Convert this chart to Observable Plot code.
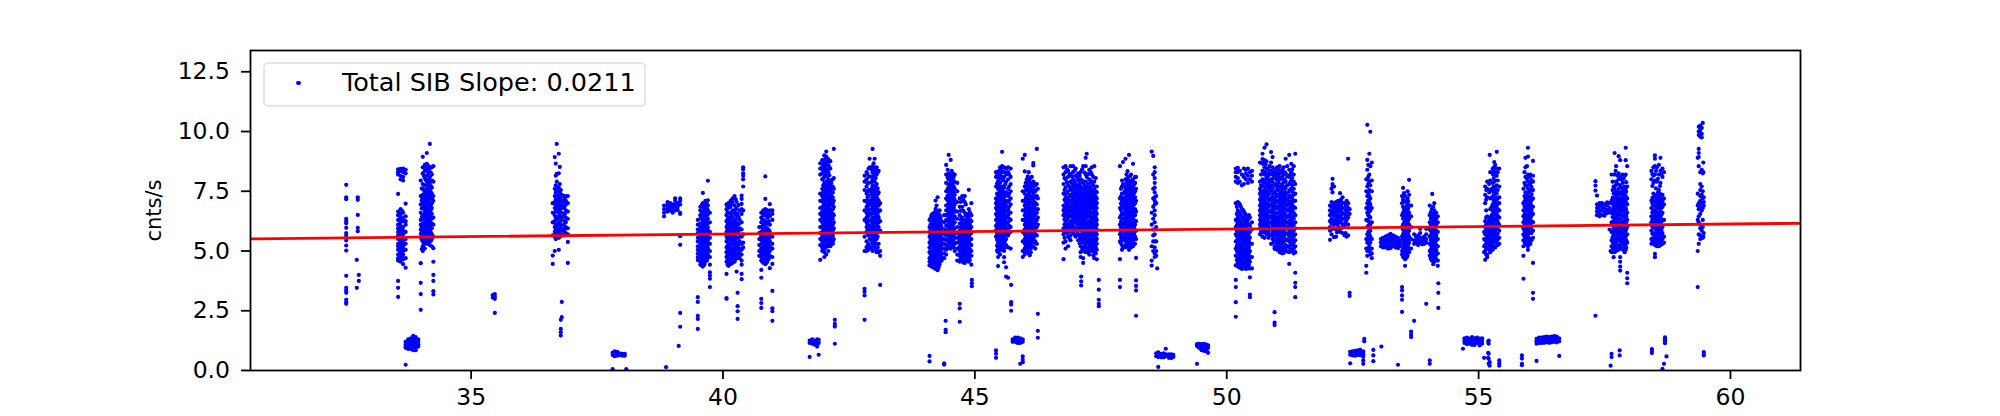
<!DOCTYPE html>
<html><head><meta charset="utf-8">
<script src="https://cdn.jsdelivr.net/npm/d3@7"></script>
<script src="https://cdn.jsdelivr.net/npm/@observablehq/plot@0.6"></script>
<style>
html,body{margin:0;padding:0;background:#fff}
#wrap{position:relative;width:2000px;height:416px;font-family:"DejaVu Sans",sans-serif}
#legend{position:absolute;left:263px;top:62px;width:379px;height:41px;background:rgba(255,255,255,.8);border:2px solid #e6e6e6;border-radius:5px;box-sizing:content-box}
#legend i{position:absolute;left:31.4px;top:17.2px;width:4.2px;height:4.2px;border-radius:50%;background:#00f}
#legend span{position:absolute;left:77px;top:3.2px;font-size:25.5px;line-height:30px;white-space:nowrap;color:#000}
</style></head><body>
<div id="wrap"><div id="chart"></div><div id="legend"><i></i><span>Total SIB Slope: 0.0211</span></div></div>
<script>
const seriesLabel = "Total SIB Slope: 0.0211";
const xDomain = [30.62, 61.39];
const yDomain = [0, 13.39];
const xTicks = [35, 40, 45, 50, 55, 60];
const yTicks = [0, 2.5, 5, 7.5, 10, 12.5];
const fitX = [30.62, 61.39];
const fitY = [5.51, 6.16];

// each entry: [x, [y, y, ...]]
const g32 = [
 [32.52,[7.77,7.25,7.17,6.35,6.25,6.16,5.97,5.75,5.65,5.44,5.23,5.02,3.96,3.46,3.35,3.25,2.96,2.86,2.79]],
 [32.75,[7.25,7.14,6.51,5.97,5.83]],[32.73,[4.63,3.46]],[32.77,[4.0,3.75]],[35.43,[3.05,3.15]],[35.47,[3.1,3.0,3.2,2.41]]
];
const g33 = [
 [33.55,[8.42,8.3,8.2,7.39,6.65,6.5,6.3,6.1,5.95,5.8,5.65,5.5,5.3,5.2,5.05,4.85,4.7,4.6,3.75,3.46,3.08]],
 [33.6,[8.44,8.35,8.15,8.0,6.75,6.55,6.35,6.2,6.05,5.9,5.75,5.6,5.45,5.35,5.2,5.1,4.95,4.75,4.55]],
 [33.65,[8.45,8.3,8.1,7.95,6.6,6.4,6.25,6.0,5.85,5.7,5.55,5.4,5.25,5.15,5.0,4.85,4.65,4.45]],
 [33.7,[8.4,8.25,6.98,6.45,6.25,6.1,5.8,5.5,5.3,5.05,4.7,4.3,1.2,1.1,1.0,.95,.24]],
 [33.75,[1.3,1.2,1.1,1.0,.9]],[33.8,[1.35,1.25,1.15,1.05,.9]],[33.85,[1.45,1.3,1.2,1.1,1.0,.85]],
 [33.9,[1.4,1.25,1.15,1.05,.95,.85]],[33.95,[1.3,1.2,1.1,1.0]]
];
const g34 = [
 [34.0,[7.95,7.3,6.95,6.6,6.3,6.1,5.9,5.72,5.55,4.49,3.67,3.2,2.54]],
 [34.04,[8.94,8.5,8.25,7.8,7.6,7.35,7.2,7.05,6.85,6.5,6.35,6.15,5.95,5.75,5.6,5.4,5.2,5.0]],
 [34.08,[8.6,8.35,8.05,7.75,7.45,7.25,7.1,6.9,6.7,6.55,6.25,6.05,5.85,5.68,5.52,5.35,5.1]],
 [34.12,[9.1,8.65,8.4,8.15,7.9,7.6,7.4,7.2,7.0,6.8,6.6,6.4,6.2,6.0,5.8,5.65,5.45,5.3]],
 [34.16,[8.55,8.3,8.0,7.7,7.5,7.3,7.15,6.95,6.75,6.5,6.3,6.1,5.92,5.74,5.58,5.38]],
 [34.18,[9.48,8.45,8.1,7.85,7.55,7.35,7.05,6.85,6.65,6.45,6.25,6.05,5.85,5.6,5.25]],
 [34.22,[8.5,8.2,7.95,7.65,7.4,7.2,7.0,6.8,6.55,6.35,6.15,5.95,5.7,5.5,5.2]],
 [34.25,[8.55,7.9,7.3,7.1,6.4,6.1,5.6,5.12,4.55,4.0,3.75,3.32,3.18]]
];
const g36 = [
 [36.62,[7.0,6.6,6.2,5.65,4.81,4.46]],[36.66,[8.93,7.6,7.3,7.05,6.8,6.5,6.25,6.0,5.8,5.6,5.0]],
 [36.68,[8.66,8.15,7.75,7.45,7.15,6.9,6.65,6.4,6.1,5.9,5.7,5.5]],
 [36.70,[9.48,8.23,7.9,7.55,7.2,7.0,6.75,6.3,6.05,5.85,5.6]],[36.74,[9.07,8.25,7.65,7.3,7.1,6.85,6.6,6.35,6.15,5.95,5.75,5.55,5.05]],
 [36.76,[8.52,7.8,7.45,7.2,7.0,6.7,6.5,6.2,5.8,5.6]],[36.8,[7.35,7.1,6.9,6.6,6.3,5.95,5.7,2.87,2.23]],
 [36.78,[2.12,1.74,1.6,1.46]],[36.84,[7.3,7.05,6.8,6.45,6.1,5.85,5.65]],[36.88,[7.3,7.1,6.95,6.7,6.4,6.2,6.0,5.75]],
 [36.92,[7.3,7.0,6.65,6.35,5.95,5.7,5.38,4.5]]
];
const g38 = [
 [37.81,[.75,.65,.06]],[37.85,[.8,.7,.6]],[37.9,[.7,.62,.78]],[37.95,[.72,.65]],[38.0,[.7,.62]],[38.05,[.7,.62]],[38.08,[.06]],[38.87,[.14]],
 [38.83,[6.9,6.75,6.6,6.45]],[38.9,[7.05,6.95,6.85,6.75,6.65]],[38.95,[7.0,6.9,6.8,6.7]],[39.0,[6.95,6.85,6.75,6.6]],
 [39.05,[7.2,7.1,6.95,6.85,6.7]],[39.1,[7.0,6.85,6.72]],[39.15,[7.2,7.1,6.95,6.6,6.55,5.62,5.26,2.41,1.83]],[39.12,[1.03]]
];
const g39 = [
 [39.5,[6.3,6.1,5.9,5.75,5.55,5.4,5.2,5.05,4.9,4.75,4.62,3.07,2.87,2.29,2.16,1.74]],
 [39.55,[6.85,6.7,6.5,6.35,6.15,6.0,5.85,5.7,5.6,5.45,5.3,5.15,5.0,4.85,4.7,4.55,4.42]],
 [39.6,[7.43,7.0,6.85,6.65,6.45,6.3,6.2,6.05,5.9,5.78,5.62,5.5,5.35,5.22,5.08,4.92,4.8,4.65,4.5,4.35]],
 [39.65,[7.1,6.95,6.8,6.6,6.4,6.25,6.1,5.95,5.8,5.65,5.52,5.38,5.25,5.1,4.95,4.82,4.68,4.55]],
 [39.7,[7.94,7.12,6.9,6.7,6.55,6.35,6.15,5.98,5.85,5.72,5.58,5.42,5.28,5.12,5.0,4.85,4.72]],
 [39.74,[6.6,6.2,5.8,5.55,5.3,5.0,4.75,4.43,4.11,3.97,3.84,3.49]]
];
const g40 = [
 [40.07,[6.95,6.75,6.5,6.25,6.0,5.8,5.6,5.4,5.15,4.95,4.75,4.55,4.04,3.03,3.0]],
 [40.11,[7.0,6.8,6.6,6.4,6.2,6.05,5.85,5.65,5.5,5.3,5.1,4.9,4.7,4.5,4.38]],
 [40.15,[7.1,6.85,6.55,6.3,6.1,5.9,5.75,5.55,5.35,5.2,5.0,4.85,4.65,4.45]],
 [40.19,[7.2,7.05,6.7,6.4,6.15,5.95,5.8,5.6,5.45,5.25,5.05,4.8,4.6,4.5]],
 [40.23,[7.3,6.9,6.6,6.25,6.05,5.85,5.7,5.5,5.3,5.1,4.95,4.75,4.55]],
 [40.27,[7.05,6.8,6.45,6.2,6.0,5.75,5.55,5.35,5.15,5.0,4.85,4.7,4.14]],
 [40.29,[6.55,3.25,2.69,2.48,2.16]],
 [40.33,[6.7,6.3,5.95,5.7,5.4,5.1,4.9,4.7]],
 [40.37,[7.32,7.18,6.97,6.75,6.55,6.2,5.9,5.6,5.3,5.05,4.85,4.6,4.43,4.04,3.82]],
 [40.4,[8.5,8.42,8.25,8.15,8.0,7.7,6.7,5.7,5.35,5.15]]
];
const g41 = [
 [40.72,[6.0,5.75,5.5,5.25,5.0,4.8]],
 [40.76,[6.6,6.4,6.2,6.0,5.8,5.62,5.45,5.28,5.1,4.92,4.75,4.6,4.21,3.88,3.0,2.82,2.62]],
 [40.8,[6.7,6.5,6.3,6.1,5.9,5.72,5.55,5.38,5.2,5.02,4.85,4.65,4.5]],
 [40.84,[8.12,7.18,6.75,6.55,6.25,6.05,5.85,5.68,5.5,5.32,5.15,4.98,4.8,4.62,4.45]],
 [40.88,[6.65,6.4,6.15,5.95,5.78,5.6,5.42,5.25,5.08,4.9,4.72,4.55]],
 [40.93,[6.96,6.7,6.45,6.1,5.8,5.6,5.4,5.2,5.0,4.8,4.28]],
 [40.98,[6.7,6.55,6.3,5.6,5.3,5.1,4.75,4.46,3.33,2.6,2.48,2.08]]
];
const g42 = [
 [41.72,[1.25,1.15,.57]],[41.77,[1.3,1.2,1.12]],[41.82,[1.25,1.15,1.08]],[41.87,[1.3,1.2,1.1,1.0]],[41.9,[1.28,1.15,.66]],
 [41.93,[8.67,8.45,8.2,7.4,7.1,6.8,6.55,6.3,6.0,5.75,5.5,5.25,4.63]],
 [41.97,[8.8,8.5,8.25,8.0,7.6,7.3,7.1,6.85,6.65,6.45,6.2,6.0,5.8,5.6,5.4,5.15,5.0]],
 [42.01,[9.0,8.7,8.4,8.1,7.85,7.6,7.35,7.15,6.95,6.75,6.5,6.3,6.1,5.9,5.7,5.5,5.25,4.95,4.75]],
 [42.05,[9.16,8.95,8.6,8.3,7.9,7.65,7.45,7.2,7.0,6.8,6.6,6.4,6.2,6.0,5.8,5.55,5.3,4.85]],
 [42.09,[8.85,8.6,8.3,8.0,7.7,7.5,7.25,7.05,6.85,6.65,6.45,6.25,6.05,5.85,5.65,5.4,5.2,5.0]],
 [42.13,[8.76,8.45,7.95,7.75,7.55,7.3,7.1,6.9,6.7,6.5,6.3,6.1,5.9,5.7,5.5,5.2]],
 [42.18,[8.0,7.7,7.45,7.25,7.0,6.75,6.55,6.35,6.1,5.85,5.65,5.4,5.3]],
 [42.2,[9.27,8.05,7.6,7.1,6.85,6.5,6.2,5.95,5.5]],[42.22,[2.12,1.95,1.84,1.12]]
];
const g43 = [
 [42.81,[8.15,7.9,7.55,7.1,6.7,6.3,5.6,5.0,3.42,3.3,3.14,2.12]],
 [42.85,[8.3,8.0,7.7,7.4,7.1,6.85,6.6,6.4,6.2,6.0,5.8,5.4,5.15,5.0]],
 [42.89,[8.45,8.1,7.85,7.55,7.3,7.1,6.9,6.7,6.45,6.25,6.05,5.85,5.65,5.3,5.05]],
 [42.91,[8.86,8.5,7.5,7.0,6.55,5.95,5.5,5.2]],
 [42.97,[9.27,8.55,8.3,8.0,7.75,7.5,7.25,7.05,6.85,6.65,6.4,6.2,6.0,5.8,5.55,5.3,5.0]],
 [43.01,[8.86,8.5,8.2,7.9,7.6,7.35,7.15,6.95,6.75,6.55,6.3,6.1,5.9,5.7,5.45,5.2]],
 [43.05,[8.5,8.2,7.8,7.5,7.25,7.05,6.85,6.6,6.35,6.15,5.95,5.75,5.5,5.1,4.95]],
 [43.09,[8.35,7.45,7.1,6.9,6.65,6.4,6.2,6.0,5.8,5.3,4.95]],[43.12,[7.0,6.7,6.25,5.85,5.0,4.8,3.58]]
];
const g44 = [
 [44.1,[6.3,6.0,5.8,5.6,5.35,5.15,4.95,4.7,4.55,4.4,.61,.38]],
 [44.14,[6.5,6.25,6.05,5.85,5.7,5.55,5.4,5.25,5.1,4.95,4.8,4.65,4.5,4.35]],
 [44.18,[6.45,6.2,6.0,5.82,5.65,5.5,5.35,5.2,5.05,4.9,4.75,4.6,4.45,4.3]],
 [44.22,[7.11,6.76,6.6,6.35,6.12,5.95,5.78,5.6,5.45,5.3,5.15,5.0,4.85,4.7,4.55,4.4,4.25]],
 [44.26,[7.25,6.65,6.4,6.15,5.92,5.75,5.58,5.42,5.25,5.1,4.95,4.8,4.65,4.5,4.35,4.2]],
 [44.3,[6.7,6.5,6.25,6.0,5.8,5.62,5.48,5.32,5.18,5.0,4.85,4.7,4.55,4.42]],
 [44.34,[6.25,6.0,5.75,5.55,5.4,5.25,5.08,4.9,4.75,4.6]],
 [44.39,[6.5,6.2,5.9,5.7,5.5,5.3,5.1,4.9,4.7,.3,.25]],
 [44.42,[2.08,1.7,1.6]],
 [44.43,[8.6,8.2,7.85,7.5,7.2,6.9,6.7,6.5,6.3,6.05,5.85,5.65,5.45,5.25,5.05,4.85]],
 [44.48,[9.02,8.25,8.0,7.75,7.45,7.25,7.05,6.85,6.6,6.4,6.2,6.0,5.8,5.6,5.4,5.2]],
 [44.52,[8.81,8.2,7.9,7.65,7.4,7.2,7.0,6.8,6.55,6.35,6.15,5.95,5.7,5.5,5.3,5.1]],
 [44.56,[8.25,8.0,7.8,7.55,7.3,7.1,6.9,6.7,6.5,6.25,6.05,5.85,5.65,5.45,5.25]],
 [44.6,[8.2,7.9,7.6,7.35,7.15,6.95,6.7,6.45,6.2,5.95,5.75,5.55,5.3,5.0]],
 [44.65,[7.85,7.5,7.05,6.65,6.35,6.0,5.75,5.55,5.35,5.1,4.85,4.6]],
 [44.7,[7.2,6.85,6.5,6.15,5.85,5.65,5.45,5.2,5.0,4.8,4.55,2.79,2.6,2.04]],
 [44.75,[7.3,6.85,6.4,6.2,6.0,5.8,5.6,5.4,5.2,5.0,4.8,4.6]],
 [44.8,[7.3,7.05,6.6,6.3,6.05,5.85,5.65,5.45,5.25,5.05,4.85,4.65,4.5]],
 [44.85,[6.4,6.15,5.95,5.75,5.55,5.35,5.15,4.95,4.75,4.6]],
 [44.88,[7.56,6.75,6.45,6.2,6.0,5.8,5.6,5.4,5.2,4.95,4.7,4.55]],
 [44.93,[7.0,6.5,6.25,6.0,5.75,5.5,5.25,5.0,4.8,4.43]],[44.94,[3.79,3.65,3.53]]
];
const g45 = [
 [45.42,[8.3,8.1,7.7,7.2,7.0,6.8,6.55,6.3,6.05,5.85,5.6,.84,.7,.53]],
 [45.46,[8.2,7.95,7.6,7.3,7.05,6.85,6.65,6.4,6.2,6.0,5.8,5.55,5.35,5.15,4.95,4.75,4.37]],
 [45.5,[8.5,8.2,7.85,7.5,7.25,7.05,6.85,6.6,6.35,6.15,5.95,5.75,5.5,5.3,5.1,4.85]],
 [45.54,[9.15,8.55,8.3,8.0,7.7,7.4,7.15,6.95,6.75,6.5,6.3,6.1,5.9,5.7,5.45,5.25,5.05]],
 [45.58,[8.5,8.1,7.65,7.25,7.0,6.8,6.6,6.4,6.2,6.0,5.8,5.55,5.3,5.0,4.74,4.53]],
 [45.62,[8.45,8.2,7.9,7.45,7.1,6.9,6.65,6.4,6.15,5.95,5.75,5.5,5.25,4.32,3.93]],
 [45.66,[8.5,8.3,8.0,7.6,7.3,7.05,6.75,6.5,6.2,5.9,5.65,5.15,3.88]],
 [45.71,[8.45,8.1,7.8,7.5,7.2,6.95,6.6,6.3,6.0,5.8,5.1]],[45.72,[3.58,2.86,2.76,2.5]],
 [45.75,[1.3,1.2]],[45.8,[1.38,1.28,1.2]],[45.85,[1.38,1.3,1.22,1.15]],[45.9,[1.35,1.25,1.15,.28]],[45.95,[1.3,1.2,.59,.45,.35,8.86,7.5,7.1,6.7,6.3,5.8,5.4,5.0,4.75]],
 [45.99,[9.02,8.33,7.7,7.4,7.1,6.9,6.7,6.5,6.3,6.1,5.9,5.7,5.5,5.3,5.1,4.85]],
 [46.03,[8.0,7.75,7.55,7.3,7.1,6.85,6.6,6.4,6.2,6.0,5.8,5.6,5.4,5.2,5.0]],
 [46.07,[8.3,7.95,7.65,7.4,7.15,6.9,6.65,6.45,6.25,6.05,5.85,5.65,5.45,5.25,4.9]],
 [46.11,[7.85,7.6,7.3,7.05,6.8,6.55,6.3,6.1,5.9,5.7,5.5,5.3,5.1,4.95]],
 [46.16,[8.68,8.58,7.9,7.7,7.4,7.15,6.9,6.65,6.4,6.15,5.95,5.75,5.5,5.2]],
 [46.2,[7.75,7.5,7.25,7.0,6.75,6.5,6.2,5.95,5.7,5.4,5.1]],
 [46.23,[9.27,7.8,7.3,6.95,6.6,6.3,6.0,5.65,5.3]],[46.25,[7.6,7.2,6.75,6.4,6.1,2.37,1.66,1.37]]
];
const g47 = [
 [46.76,[8.5,8.2,7.8,7.4,6.9,6.7,6.5,5.95,5.7,5.35,4.66]],
 [46.8,[8.55,8.3,8.0,7.65,7.3,7.05,6.85,6.65,6.45,6.25,6.05,5.85,5.4,5.1]],
 [46.85,[8.35,8.1,7.75,7.5,7.2,7.0,6.8,6.6,6.4,6.15,5.9,5.6,5.2]],
 [46.9,[8.55,8.2,7.9,7.6,7.35,7.1,6.9,6.7,6.5,6.25,5.95,5.65,5.45]],
 [46.95,[8.55,8.3,8.0,7.7,7.45,7.2,7.0,6.8,6.55,6.35,6.05,5.75]],
 [47.0,[8.45,8.15,7.8,7.55,7.3,7.05,6.85,6.65,6.45,6.2,5.9,5.6]],
 [47.05,[8.25,7.95,7.6,7.35,7.1,6.9,6.7,6.5,6.3,6.0,5.7,5.45]],
 [47.1,[8.3,8.0,7.7,7.45,7.2,7.0,6.75,6.55,6.3,6.1,5.9,5.7,5.5,5.2,4.95,4.75]],[47.11,[3.93,3.73,3.56]],
 [47.15,[8.55,7.85,7.55,7.3,7.05,6.85,6.65,6.4,6.2,6.0,5.8,5.55,5.35,5.15,5.0,4.7,4.5]],
 [47.2,[8.9,8.55,8.2,7.9,7.6,7.35,7.15,6.95,6.75,6.5,6.3,6.1,5.9,5.7,5.5,5.3,5.1,4.95]],
 [47.22,[9.07,8.1,7.7,7.45,7.25,7.0,6.8,6.6,6.4,6.15,5.95,5.75,5.55,5.35,5.15]],
 [47.27,[8.4,8.0,7.65,7.35,7.15,6.9,6.7,6.5,6.25,6.05,5.85,5.65,5.45,5.25,5.05,4.85]],
 [47.32,[8.5,8.2,7.85,7.55,7.3,7.1,6.85,6.6,6.4,6.2,6.0,5.8,5.6,5.4,5.2,5.0]],
 [47.37,[8.55,7.9,7.6,7.35,7.1,6.9,6.7,6.5,6.25,6.05,5.85,5.65,5.45,5.2,4.95,4.7]],
 [47.42,[7.7,7.45,7.2,7.0,6.8,6.55,6.3,6.1,5.9,5.7,5.5,5.3,5.05,4.65]],
 [47.46,[3.79,3.38,2.96,2.79,2.69]]
];
const g48 = [
 [47.88,[8.55,7.2,6.8,6.4,6.1,5.7,5.4,4.66,3.79,3.49]],
 [47.92,[7.95,7.7,7.4,7.1,6.85,6.6,6.35,6.1,5.85,5.65,5.45,5.25,5.05]],
 [47.94,[8.72,7.8,7.2,6.9,6.55,6.2,5.95,5.55,5.15]],
 [47.99,[8.86,8.0,7.6,7.35,7.1,6.9,6.7,6.5,6.25,6.05,5.8,5.6,5.4,5.15]],
 [48.03,[8.34,8.05,7.75,7.4,7.2,7.0,6.75,6.55,6.3,6.1,5.9,5.7,5.45,5.25]],
 [48.06,[9.02,7.95,7.5,7.25,7.05,6.85,6.6,6.4,6.15,5.95,5.75,5.55,5.3,5.05]],
 [48.1,[8.2,7.7,7.45,7.2,6.95,6.7,6.45,6.2,6.0,5.8,5.6,5.35,5.15]],
 [48.14,[8.65,8.0,7.65,7.35,7.1,6.9,6.65,6.4,6.15,5.9,5.7,5.45,5.2,5.4]],
 [48.18,[8.1,7.85,7.5,7.25,7.0,6.75,6.5,6.1,5.85,5.6,5.3]],
 [48.2,[8.1,7.6,7.1,6.65,6.25,5.85,5.5,4.71,3.77,3.54,3.35,2.29]]
];
const g485 = [
 [48.51,[9.16,6.6,6.1,5.2,4.6,4.39]],[48.54,[8.98,8.2,7.6,7.2,6.85,6.35,5.9,5.65,5.4,5.0]],
 [48.57,[8.5,8.3,8.05,7.85,7.65,7.45,7.25,7.1,6.95,6.7,6.5,6.2,5.9,5.7,5.4,5.15,4.9,4.75]],
 [48.6,[7.3,7.0,6.0,5.4,5.0,4.8,.72,.6]],[48.62,[4.27]],[48.64,[.76,.65,.56,.15]],
 [48.7,[.7,.62,.55]],[48.75,[.72,.63,.55]],[48.79,[.91,.68,.6]],[48.85,[.68,.6,.53]],[48.9,[.68,.6,.52]],[48.94,[.65,.57]],
 [49.41,[1.1,1.02,.28]],[49.45,[1.12,1.03,.95]],[49.5,[1.1,1.0,.92,.85]],[49.55,[1.12,1.0,.9,.82]],[49.6,[1.08,.98,.88,.8]],[49.63,[1.05,.95,.74]]
];
const g50 = [
 [50.18,[8.45,8.3,8.1,7.9,7.0,6.3,6.0,5.7,5.4,5.1,4.8,4.4,3.79,3.49,2.86,2.25]],
 [50.22,[8.48,8.3,8.05,7.85,7.05,6.7,6.4,6.2,5.95,5.75,5.55,5.35,5.15,4.95,4.75,4.55,4.35]],
 [50.26,[8.35,7.9,6.95,6.6,6.3,6.05,5.85,5.65,5.48,5.3,5.1,4.9,4.7,4.5,4.3]],
 [50.3,[8.2,7.75,6.75,6.45,6.15,5.95,5.75,5.55,5.4,5.2,5.0,4.8,4.6,4.4,4.25]],
 [50.34,[8.45,8.1,7.8,6.65,6.35,6.1,5.9,5.7,5.5,5.3,5.1,4.92,4.72,4.52,4.32]],
 [50.38,[8.4,8.25,8.0,6.5,6.25,6.0,5.8,5.6,5.42,5.25,5.05,4.85,4.65,4.45,4.25]],
 [50.42,[8.45,8.15,7.85,6.3,6.1,5.85,5.65,5.45,5.25,5.05,4.85,4.65,4.45,4.27]],
 [50.46,[8.3,8.0,6.4,6.05,5.8,5.55,5.3,5.0,4.75,4.55,4.27,3.9,3.18,3.07]],
 [50.5,[8.35,8.15,7.9,6.2,5.9,5.3,4.75,4.27]]
];
const g51 = [
 [50.66,[8.7,7.9,7.6,7.4,7.15,6.9,6.7,6.5,6.3,6.1,5.95,5.7]],
 [50.71,[9.07,8.85,8.65,8.35,8.0,7.7,7.4,7.15,6.95,6.75,6.55,6.35,6.15,5.9,5.6]],
 [50.75,[9.32,8.8,8.5,8.2,7.9,7.55,7.3,7.1,6.85,6.6,6.4,6.2,6.0,5.55]],
 [50.79,[9.46,8.75,8.45,8.1,7.8,7.5,7.25,7.0,6.8,6.55,6.35,6.15,5.9,5.7]],
 [50.83,[8.4,8.15,7.85,7.6,7.35,7.1,6.85,6.6,6.35,6.1,5.85,5.55]],
 [50.88,[9.14,8.7,8.35,8.0,7.75,7.5,7.2,6.95,6.7,6.45,6.2,5.95,5.65,5.3]],
 [50.91,[8.93,8.5,8.2,7.9,7.6,7.3,7.05,6.8,6.55,6.3,6.05,5.8,5.5]],
 [50.95,[8.4,8.15,7.8,7.45,7.2,6.95,6.75,6.5,6.25,6.0,5.75,5.45,5.2,5.09,2.44,2.0,1.9]],
 [51.0,[8.5,8.2,7.95,7.65,7.35,7.1,6.85,6.6,6.4,6.2,6.0,5.8,5.55,5.3,5.05]],
 [51.05,[8.55,8.25,8.0,7.7,7.4,7.15,6.9,6.7,6.5,6.3,6.1,5.9,5.7,5.45,5.2,4.95]],
 [51.1,[8.4,8.1,7.8,7.55,7.3,7.05,6.85,6.6,6.4,6.2,6.0,5.8,5.6,5.35,5.1,4.9]],
 [51.15,[8.3,8.0,7.7,7.45,7.2,7.0,6.75,6.55,6.3,6.1,5.9,5.7,5.45,5.2,5.0]],
 [51.17,[8.86,8.25,7.9,7.6,7.3,7.05,6.8,6.5,6.25,6.0,5.75,5.5,5.25,5.05]],
 [51.24,[9.02,8.4,8.1,7.8,7.5,7.25,7.0,6.75,6.5,6.25,6.05,5.85,5.6,5.4,5.15,4.95,4.46]],
 [51.28,[8.65,8.3,7.95,7.6,7.3,7.05,6.8,6.55,6.3,6.05,5.8,5.55,5.3,5.05]],
 [51.33,[8.55,8.2,7.9,7.6,7.35,7.1,6.85,6.6,6.35,6.1,5.85,5.6,5.35,5.1,4.9]],
 [51.36,[9.07,7.8,7.4,7.1,6.8,6.5,6.2,5.95,5.7,5.45,5.2,4.95,4.09,3.67,3.49,3.07]]
];
const g52 = [
 [52.05,[6.9,6.7,6.5,6.25,6.0,5.85,5.47]],[52.08,[7.6,7.05,6.85,6.6,6.35,6.15,5.9,5.7]],
 [52.1,[8.02,7.8,7.67,7.45]],[52.13,[7.7,7.0,6.8,6.55,6.3,6.1,5.58]],[52.17,[7.05,6.85,6.65,6.45,6.25,5.9,5.6]],
 [52.21,[7.1,6.9,6.7,6.5,6.3,6.05,5.85]],[52.25,[7.42,7.05,6.85,6.65,6.4,6.2,5.8]],[52.3,[7.25,7.0,6.8,6.6,6.35,6.1,5.75]],
 [52.34,[7.0,6.8,6.55,6.35,6.05,5.65]],[52.38,[7.1,6.9,6.7,6.5,6.3,5.6]],[52.41,[8.86,7.0,6.8,6.6,6.4,6.1,5.65]],[52.44,[6.75,6.55,3.25,3.12]],
 [52.45,[.78,.66,.3]],[52.5,[.8,.72,.63]],[52.55,[.82,.72,.62]],[52.6,[.84,.74,.65]],[52.65,[.86,.75,.64]],[52.71,[.8,.68,.58,.42,.28]],[52.73,[1.32,1.22]],
 [52.77,[8.0,7.5,6.8,6.3,5.5,5.1,4.38,4.09]],[52.79,[10.28,8.81,8.4,8.0,7.7,7.3,7.0,6.6,6.3,6.0,5.7,5.35,5.0,4.8]],
 [52.83,[9.07,8.2,7.9,7.55,7.3,7.05,6.85,6.65,6.45,6.2,5.95,5.7,5.5,5.25,5.0]],
 [52.85,[9.99,8.55,7.75,7.2,6.95,6.7,6.4,6.1,5.85,5.6,5.35,5.1,4.85]],[52.88,[8.7,7.95,7.5,6.8,6.2,5.5,5.1,4.9,4.7]],
 [52.91,[.86,.63,.39]],[53.07,[1.0]]
];
const g53 = [
 [53.06,[5.5,5.35,5.2]],[53.1,[5.55,5.42,5.28,5.15]],[53.15,[5.6,5.45,5.3,5.15]],[53.2,[5.65,5.5,5.35,5.2,5.1]],[53.25,[5.72,5.58,5.42,5.28,5.12]],
 [53.3,[5.65,5.5,5.35,5.2]],[53.35,[5.6,5.45,5.3,5.15]],[53.4,[5.55,5.4,5.25,5.12,.24]],[53.44,[5.45,5.3,5.2]],
 [53.48,[7.3,7.0,6.5,6.0,5.6,5.3,5.0,4.85,3.49,3.35,3.14,2.96,2.45]],
 [53.5,[7.64,7.15,6.85,6.6,6.35,6.1,5.9,5.7,5.5,5.3,5.1,4.9,4.75]],
 [53.54,[7.3,7.05,6.8,6.5,6.25,6.05,5.85,5.65,5.45,5.25,5.05,4.85,4.65,4.38]],
 [53.59,[7.5,7.2,6.95,6.7,6.45,6.2,6.0,5.8,5.6,5.4,5.2,5.0,4.8]],
 [53.62,[7.98,7.35,6.9,6.6,6.35,6.1,5.85,5.6,5.35,5.1,4.95]],[53.66,[6.9,6.45,6.0,5.5,5.1,1.63,1.5,1.4]],[53.72,[5.7,5.45,5.3,2.08]],
 [53.76,[5.6,5.45,5.32]],[53.8,[5.65,5.48,5.3,5.25]],[53.84,[5.93,5.75,5.55,5.38]],[53.88,[5.55,5.4,5.28]],[53.92,[5.6,5.45,5.3]],[53.96,[5.93,5.7,5.5,5.35,2.79]],
 [54.03,[6.9,6.5,6.2,5.9,5.6,5.3,5.0,4.8,.42,.28]],[54.07,[6.75,6.45,6.2,6.0,5.75,5.55,5.35,5.15,4.95,4.75,4.6]],
 [54.08,[7.39]],[54.12,[7.0,6.7,6.4,6.15,5.95,5.7,5.5,5.3,5.1,4.9,4.7,4.55]],[54.16,[6.6,6.35,6.1,5.85,5.65,5.45,5.25,5.05,4.85,4.65]],
 [54.19,[6.45,6.2,5.8,5.5,5.2,4.9,4.6,4.38]],[54.2,[3.65,3.25,2.62]]
];
const g55 = [
 [54.69,[.91]],[54.72,[1.35,1.25,1.15]],[54.77,[1.38,1.28,1.18,1.1]],[54.82,[1.32,1.22,1.12]],[54.87,[1.4,1.28,1.17,1.07]],[54.92,[1.35,1.25,1.15,1.07]],
 [54.97,[1.38,1.26,1.15]],[55.02,[1.34,1.24,1.14,1.05]],[55.07,[1.35,1.25,1.12]],[55.11,[.53,4.95,5.2,5.5,5.8]],[55.13,[4.63,5.0,5.25,5.45,5.7,6.0,6.25,7.0,7.35,7.7]],
 [55.17,[7.9,7.6,7.25,6.45,6.2,6.0,5.8,5.6,5.4,5.2,4.85,4.74]],[55.19,[1.19,.74,.53]],[55.2,[1.25,1.12,.7,.49,.28]],[55.22,[9.02,.35,.2]],
 [55.21,[7.8,7.45,6.3,6.05,5.85,5.65,5.45,5.25,5.05]],[55.26,[7.6,7.25,6.85,6.5,6.25,6.0,5.8,5.6,5.4,5.2]],
 [55.3,[8.35,8.05,7.7,7.35,7.1,6.85,6.6,6.4,6.15,5.95,5.75,5.55,5.35,5.15]],[55.31,[8.72,8.5,8.2,7.9,7.5,7.0,6.7,6.3,6.05,5.7,5.45,5.2]],
 [55.36,[9.15,8.45,8.15,7.75,7.4,7.15,6.9,6.6,6.35,6.1,5.9,5.6,5.35]],[55.41,[8.45,7.7,7.25,7.0,6.7,6.4,6.1,5.85,5.55,5.3,.42,.2,.3]],
 [55.86,[.63,.5,.28,.22]]
];
const g56 = [
 [55.89,[7.6,7.0,6.7,6.45,6.2,5.95,5.7,5.45,5.2,4.8,3.84]],[55.93,[8.9,8.5,8.1,7.75,7.45,7.2,7.0,6.8,6.6,6.4,6.2,6.0,5.8,5.55,5.3]],
 [55.98,[9.32,8.95,8.2,7.9,7.6,7.3,7.1,6.9,6.7,6.5,6.3,6.05,5.85,5.6,5.4,5.2,5.05]],
 [56.03,[8.2,7.85,7.55,7.25,7.0,6.8,6.6,6.4,6.15,5.95,5.75,5.5,5.3]],
 [56.08,[8.77,8.15,7.9,7.55,7.2,6.85,6.55,6.2,5.85,5.55,4.5,3.25,3.0]],
 [56.15,[1.32,1.22,1.12,.4]],[56.2,[1.38,1.26,1.14]],[56.25,[1.38,1.27,1.15]],[56.3,[1.4,1.28,1.16]],[56.35,[1.42,1.3,1.18]],
 [56.4,[1.4,1.28,1.16]],[56.45,[1.42,1.3,1.18]],[56.5,[1.44,1.32,1.2]],[56.55,[1.42,1.3,1.18]],[56.6,[1.35,1.22,.61]]
];
const g57 = [
 [57.32,[7.92,7.74,7.53,2.29]],[57.35,[7.32,6.95,6.8,6.65,6.5]],[57.4,[7.0,6.85,6.7,6.55,6.45]],[57.45,[7.0,6.85,6.7,6.5]],[57.5,[6.95,6.78,6.62,6.48]],
 [57.55,[7.04,6.9,6.72,6.58]],[57.6,[7.0,6.8,6.65,5.9]],[57.62,[.2,6.6,5.0]],[57.64,[.7,.56,8.2,7.1,6.6,6.2,5.8,5.45,5.2,4.95]],
 [57.68,[7.7,7.4,7.05,6.85,6.55,6.25,5.95,5.7,5.5,5.3,5.1,4.74]],[57.7,[9.1,8.2,7.6,7.2,6.95,6.7,6.4,6.1,5.8,5.55,5.35,5.15,4.95]],
 [57.73,[8.55,7.9,7.5,7.25,7.0,6.8,6.55,6.3,6.05,5.8,5.6,5.4,5.2,5.0]],[57.78,[8.97,8.25,8.0,7.6,7.35,7.1,6.9,6.65,6.45,6.2,6.0,5.75,5.5,5.25,5.05]],
 [57.81,[8.8,8.1,7.75,7.45,7.2,7.0,6.8,6.55,6.3,6.1,5.85,5.65,5.45,5.2,4.74,4.55,4.35,4.18]],
 [57.8,[.84,.63]],[57.86,[8.2,7.85,7.5,7.25,7.05,6.85,6.65,6.4,6.15,5.95,5.75,5.55,5.35,5.1]],
 [57.9,[8.15,7.7,7.4,7.15,6.95,6.75,6.5,6.25,6.05,5.8,5.6,5.4,5.2,4.95]],
 [57.92,[9.32,8.8,8.2,7.6,7.3,7.05,6.8,6.55,6.3,6.1,5.85,5.6,5.3,5.05]],[57.95,[8.55,7.7,7.2,6.95,6.6,6.3,6.0,5.7,5.35,4.09,3.86,3.65]]
];
const g58 = [
 [58.43,[8.35,8.0,7.1,6.8,6.45,6.2,5.85,5.5,5.3]],[58.44,[.9,.82,.73]],[58.47,[8.5,8.15,7.85,7.4,7.1,6.9,6.7,6.5,6.25,6.0,5.75,5.55,5.35]],
 [58.5,[9.0,8.86,8.55,8.2,7.95,7.3,7.1,6.9,6.7,6.45,6.2,5.95,5.7,5.45,5.25,4.88,4.74]],
 [58.54,[8.5,7.9,7.35,7.15,6.95,6.75,6.5,6.25,6.05,5.8,5.6,5.4,5.2]],[58.58,[8.6,8.2,7.55,7.25,7.05,6.85,6.6,6.35,6.1,5.85,5.65,5.45,5.2]],
 [58.61,[8.9,8.35,7.85,7.3,7.1,6.9,6.65,6.4,6.15,5.95,5.7,5.5,5.25]],[58.65,[8.45,8.1,7.35,7.1,6.85,6.6,6.3,6.0,5.75,5.5,5.3,.07]],
 [58.68,[8.3,7.2,6.95,6.3,5.6,5.35,.28]],[58.7,[1.39,1.3,1.22,1.14]],[58.73,[.59]],
 [59.35,[8.9,5.0,3.49,7.4,6.9,6.3]],[59.37,[10.2,10.0,9.85,9.27,9.1,8.93,8.55,7.0,6.75,6.45,6.2,5.3,5.7]],
 [59.4,[10.25,10.1,9.95,9.78,8.3,7.8,7.55,7.3,7.1,6.85,6.55,6.1,5.95,5.65,5.5]],
 [59.43,[10.15,9.9,9.75,8.4,7.7,7.35,7.0,6.7,5.85]],[59.45,[10.36,8.25,7.5,7.2,6.8,6.3,6.0,5.55]],[59.46,[8.7,8.3,5.6]],[59.47,[7.25,7.05,6.9,5.75,.77,.7,.63]]
];
// extra points inside the densest blobs, read between the columns above
const dense1 = [
 [33.58,[6.47,6.12,5.87,5.62,5.33,5.12,4.88,4.66]],[33.63,[6.68,6.28,5.97,5.72,5.48,5.28,5.03,4.72]],
 [34.02,[7.62,7.12,6.78,6.42,6.02,5.82,5.47,5.08]],[34.06,[8.15,7.55,7.32,6.97,6.78,6.43,6.12,5.88,5.47,5.28]],[34.1,[8.48,7.98,7.52,7.28,7.03,6.87,6.48,6.28,6.08,5.92,5.72,5.42]],
 [34.14,[8.22,7.78,7.42,7.08,6.88,6.67,6.47,6.27,5.97,5.77,5.53]],[34.2,[8.28,7.72,7.47,7.22,6.92,6.72,6.38,6.12,5.78,5.42]],
 [36.72,[7.62,7.32,6.93,6.68,6.42,6.12,5.78]],[36.78,[7.55,7.25,7.02,6.78,6.42,6.08,5.88,5.62]],[36.86,[7.18,6.88,6.55,6.25,5.92,5.72]],
 [39.58,[6.92,6.58,6.38,6.12,5.87,5.67,5.42,5.17,4.97,4.72,4.47]],[39.63,[6.72,6.52,6.17,6.02,5.72,5.47,5.17,5.02,4.72,4.42]],[39.68,[6.97,6.77,6.47,6.22,6.02,5.77,5.48,5.22,5.03,4.78,4.6]],
 [40.09,[6.87,6.62,6.32,6.12,5.92,5.72,5.48,5.22,5.02,4.82,4.62,4.42]],[40.17,[6.98,6.62,6.47,6.22,6.02,5.83,5.63,5.42,5.27,5.08,4.92,4.72,4.52]],[40.25,[7.17,6.72,6.52,6.32,6.12,5.93,5.62,5.42,5.22,5.05,4.88,4.65]],[40.31,[6.92,6.42,6.12,5.85,5.55,5.25,5.02,4.8]],
 [40.78,[6.62,6.32,6.02,5.82,5.63,5.47,5.32,5.12,4.95,4.78,4.55]],[40.86,[6.72,6.47,6.15,5.92,5.73,5.52,5.37,5.18,5.0,4.85,4.68,4.5]],[40.91,[6.55,6.25,5.88,5.7,5.5,5.33,5.13,4.95,4.67]],
 [41.99,[8.6,8.35,8.02,7.75,7.47,7.22,7.02,6.77,6.57,6.37,6.12,5.92,5.72,5.47,5.27,5.07]],[42.03,[8.85,8.52,8.2,7.78,7.52,7.27,7.07,6.87,6.67,6.42,6.23,6.03,5.83,5.62,5.42,5.12]],
 [42.07,[8.75,8.4,8.12,7.82,7.57,7.33,7.12,6.92,6.72,6.52,6.33,6.12,5.92,5.72,5.47,5.22]],[42.11,[8.52,8.17,7.88,7.62,7.38,7.18,6.97,6.77,6.57,6.37,6.17,5.97,5.77,5.58,5.32]],[42.15,[7.85,7.6,7.38,7.2,6.95,6.62,6.42,6.2,6.0,5.8,5.6,5.35]],
 [42.87,[8.22,7.82,7.48,7.25,7.0,6.78,6.52,6.32,6.12,5.92,5.72,5.22]],[42.95,[8.42,8.12,7.88,7.62,7.38,7.15,6.95,6.75,6.55,6.3,6.1,5.9,5.67,5.42,5.12]],[42.99,[8.67,8.38,8.07,7.72,7.45,7.2,7.0,6.8,6.6,6.35,6.15,5.95,5.75,5.5,5.25]],[43.03,[8.35,8.05,7.7,7.42,7.22,7.02,6.82,6.62,6.42,6.22,6.02,5.82,5.58,5.32,5.05]],[43.07,[8.28,7.62,7.38,7.17,6.95,6.72,6.5,6.25,6.05,5.85,5.6,5.15]]
];
const dense2 = [
 [44.12,[6.38,6.12,5.92,5.72,5.47,5.32,5.17,5.02,4.87,4.73,4.58,4.43]],[44.16,[6.55,6.32,6.12,5.92,5.77,5.62,5.47,5.33,5.17,5.02,4.87,4.72,4.57,4.42]],[44.2,[6.62,6.4,6.22,6.05,5.87,5.72,5.57,5.42,5.27,5.12,4.97,4.82,4.67,4.52,4.37]],
 [44.24,[6.9,6.68,6.47,6.25,6.02,5.85,5.68,5.52,5.37,5.22,5.07,4.92,4.77,4.62,4.47,4.32]],[44.28,[6.55,6.3,6.08,5.88,5.7,5.53,5.38,5.22,5.07,4.9,4.75,4.6,4.47,4.3]],[44.32,[6.4,6.12,5.88,5.68,5.52,5.35,5.2,5.03,4.87,4.72,4.57]],
 [44.46,[8.4,8.07,7.6,7.32,7.12,6.93,6.72,6.52,6.28,6.08,5.88,5.7,5.5,5.28,5.1]],[44.5,[8.1,7.8,7.55,7.32,7.12,6.9,6.68,6.47,6.25,6.07,5.87,5.67,5.47,5.25]],[44.54,[8.35,8.05,7.72,7.47,7.27,7.07,6.85,6.62,6.42,6.22,6.02,5.82,5.6,5.38,5.18]],[44.58,[8.1,7.7,7.45,7.22,7.03,6.82,6.6,6.35,6.15,5.85,5.65,5.4,5.15]],
 [44.72,[7.05,6.68,6.32,6.0,5.75,5.55,5.32,5.1,4.9,4.68]],[44.77,[7.15,6.68,6.3,6.1,5.9,5.7,5.5,5.3,5.1,4.9,4.7,4.52]],[44.82,[6.95,6.5,6.2,5.95,5.75,5.55,5.35,5.15,4.95,4.75,4.57]],[44.87,[6.55,6.28,6.08,5.87,5.68,5.47,5.27,5.07,4.87,4.68]],[44.9,[6.62,6.32,6.12,5.9,5.7,5.5,5.3,5.08,4.85,4.62]],
 [45.44,[8.25,7.82,7.4,7.1,6.92,6.72,6.47,6.12,5.92,5.72,5.47,5.22,5.02]],[45.48,[8.35,8.08,7.72,7.42,7.17,6.95,6.75,6.52,6.28,6.08,5.88,5.65,5.42,5.22,5.0]],[45.52,[8.42,8.12,7.62,7.35,7.1,6.9,6.68,6.42,6.22,6.02,5.82,5.6,5.38,5.17]],[45.56,[8.32,7.95,7.5,7.2,7.02,6.85,6.62,6.38,6.18,5.98,5.78,5.52,5.3,5.1]],[45.6,[8.28,7.78,7.35,7.05,6.85,6.68,6.48,6.28,6.08,5.88,5.65,5.42,5.15]],[45.68,[8.2,7.7,7.4,7.12,6.85,6.62,6.35,6.05,5.75]],
 [46.01,[7.85,7.55,7.22,7.0,6.8,6.6,6.38,6.18,5.97,5.78,5.6,5.4,5.18,4.95]],[46.05,[8.12,7.85,7.6,7.33,7.05,6.78,6.55,6.32,6.12,5.93,5.73,5.53,5.32,5.08]],[46.09,[8.02,7.72,7.48,7.22,7.0,6.75,6.52,6.35,6.15,5.95,5.75,5.55,5.35,5.15,4.82]],[46.13,[8.1,7.8,7.52,7.22,6.97,6.72,6.48,6.22,6.02,5.82,5.62,5.4,5.2]],[46.18,[7.82,7.55,7.3,7.05,6.82,6.55,6.3,6.05,5.82,5.6,5.35]],
 [46.78,[8.05,7.55,7.15,6.78,6.58,6.33,6.12,5.78,5.55]],[46.83,[8.42,7.87,7.42,7.12,6.92,6.72,6.53,6.32,5.97,5.75]],[46.88,[8.22,7.68,7.28,7.08,6.88,6.68,6.47,6.07,5.82,5.52]],[46.93,[8.12,7.82,7.52,7.27,7.03,6.83,6.63,6.42,6.17,5.87]],
 [46.98,[8.37,7.93,7.62,7.38,7.13,6.93,6.72,6.5,6.28,5.98,5.68]],[47.03,[8.08,7.72,7.45,7.22,6.98,6.78,6.6,6.38,6.12,5.82]],[47.08,[8.15,7.83,7.58,7.32,7.08,6.83,6.62,6.43,6.18,5.97,5.6,5.32]],[47.13,[8.42,7.95,7.62,7.38,7.12,6.92,6.72,6.48,6.27,6.08,5.88,5.63,5.43,5.08]],
 [47.18,[8.28,7.73,7.42,7.2,7.0,6.8,6.6,6.35,6.15,5.95,5.73,5.52,5.28,5.03]],[47.25,[8.22,7.82,7.52,7.28,7.08,6.85,6.65,6.45,6.18,5.98,5.78,5.58,5.38,5.12,4.95]],[47.3,[8.3,7.95,7.7,7.45,7.2,7.0,6.77,6.55,6.32,6.12,5.92,5.72,5.5,5.3,5.1]],[47.35,[8.1,7.75,7.45,7.22,7.0,6.8,6.58,6.33,6.15,5.95,5.75,5.53,5.3,5.08,4.82]],[47.4,[8.05,7.5,7.28,7.08,6.88,6.65,6.4,6.2,6.0,5.78,5.58,5.38,5.15,4.9]],
 [47.9,[7.6,7.28,6.98,6.72,6.48,6.22,5.98,5.78,5.55,5.32]],[47.97,[7.72,7.48,7.22,6.98,6.78,6.58,6.38,6.15,5.93,5.7,5.48,5.22]],[48.01,[8.2,7.88,7.5,7.28,7.08,6.85,6.65,6.42,6.2,6.0,5.8,5.58,5.33]],[48.05,[7.85,7.62,7.33,7.13,6.93,6.7,6.47,6.25,6.03,5.83,5.63,5.4,5.18]],[48.08,[8.12,7.82,7.58,7.32,7.08,6.8,6.52,6.3,6.08,5.87,5.68,5.45,5.23]],[48.12,[7.9,7.58,7.28,7.03,6.8,6.55,6.28,6.05,5.8,5.52,5.28]],[48.16,[7.78,7.42,7.18,6.95,6.7,6.28,5.98,5.72,5.5]]
];
const dense3 = [
 [50.2,[6.85,6.55,6.28,6.08,5.85,5.62,5.42,5.22,5.02,4.82,4.62,4.42]],[50.24,[7.0,6.5,6.28,6.08,5.85,5.68,5.5,5.25,5.02,4.82,4.62,4.4]],[50.28,[6.85,6.52,6.22,6.0,5.8,5.6,5.42,5.22,5.03,4.83,4.63,4.43]],[50.32,[6.72,6.4,6.2,6.02,5.82,5.62,5.45,5.25,5.05,4.87,4.67,4.47,4.3]],[50.36,[6.58,6.3,6.05,5.85,5.65,5.47,5.28,5.08,4.88,4.68,4.48,4.28]],[50.4,[6.42,6.18,5.92,5.72,5.52,5.32,5.12,4.92,4.72,4.52,4.32]],[50.44,[6.5,6.12,5.85,5.62,5.4,5.15,4.9,4.65,4.42]],
 [50.68,[8.2,7.75,7.5,7.28,7.02,6.8,6.6,6.42,6.2,6.02,5.8]],[50.73,[8.72,8.32,7.85,7.52,7.28,7.05,6.85,6.65,6.45,6.25,6.07,5.78]],[50.77,[8.62,8.3,7.98,7.68,7.4,7.2,6.97,6.72,6.5,6.3,6.08,5.8]],[50.81,[8.25,8.0,7.72,7.45,7.22,6.95,6.7,6.47,6.25,6.0,5.78]],[50.85,[8.55,8.22,7.9,7.65,7.42,7.15,6.9,6.65,6.42,6.18,5.95,5.7]],[50.93,[8.3,8.05,7.72,7.42,7.12,6.88,6.63,6.38,6.15,5.9,5.62,5.35]],
 [50.98,[8.3,8.05,7.78,7.52,7.28,7.03,6.78,6.55,6.32,6.12,5.92,5.68,5.42,5.15]],[51.03,[8.4,8.12,7.85,7.55,7.28,7.02,6.8,6.6,6.4,6.2,6.02,5.8,5.58,5.33,5.08]],[51.08,[8.3,8.02,7.68,7.45,7.2,6.98,6.77,6.55,6.35,6.15,5.95,5.72,5.5,5.25,5.0]],[51.13,[8.5,8.2,7.88,7.62,7.38,7.12,6.92,6.68,6.47,6.25,6.05,5.85,5.62,5.38,5.13,4.92]],[51.2,[8.55,8.12,7.75,7.42,7.15,6.92,6.68,6.42,6.18,5.97,5.72,5.45,5.2,4.98]],[51.26,[8.2,7.88,7.58,7.32,7.08,6.88,6.65,6.4,6.15,5.95,5.72,5.48,5.25,5.02]],[51.3,[8.42,8.05,7.75,7.48,7.2,6.95,6.7,6.45,6.22,5.97,5.72,5.48,5.22,4.98]],
 [52.12,[6.95,6.72,6.48,6.2,5.95]],[52.19,[6.98,6.78,6.58,6.38,6.15,5.78]],[52.27,[7.15,6.92,6.72,6.5,6.25,5.95]],[52.36,[6.95,6.72,6.45,6.2,5.75]],
 [52.81,[8.6,8.1,7.8,7.42,7.12,6.92,6.72,6.5,6.25,6.05,5.8,5.6,5.38,5.12]],
 [53.52,[7.42,7.08,6.72,6.42,6.18,5.97,5.78,5.58,5.38,5.17,4.97,4.78]],[53.57,[7.12,6.88,6.62,6.35,6.12,5.92,5.72,5.52,5.32,5.12,4.92,4.72]],[53.6,[7.08,6.78,6.52,6.28,6.05,5.72,5.48,5.27,5.03]],
 [54.05,[6.62,6.35,6.1,5.85,5.65,5.45,5.25,5.05,4.85,4.68]],[54.1,[6.85,6.55,6.3,6.08,5.85,5.62,5.42,5.22,5.02,4.82,4.62,4.45]],[54.14,[6.5,6.25,6.02,5.78,5.58,5.38,5.18,4.98,4.78,4.6]],
 [55.15,[7.55,7.15,6.7,6.4,6.12,5.92,5.7,5.5,5.3,5.1,4.85]],[55.23,[8.3,7.95,7.55,7.2,6.75,6.4,6.15,5.92,5.72,5.52,5.32,5.12,4.95]],[55.28,[8.45,8.22,7.85,7.5,7.2,6.95,6.68,6.45,6.22,6.02,5.82,5.62,5.42,5.22,5.05]],[55.33,[8.6,8.28,7.95,7.6,7.25,7.05,6.78,6.52,6.27,6.02,5.8,5.6,5.38,5.15]],[55.38,[8.3,7.95,7.55,7.2,6.98,6.75,6.47,6.22,5.98,5.72,5.48,5.25]],
 [55.91,[8.3,7.85,7.3,7.08,6.88,6.52,6.3,6.08,5.85,5.62,5.38]],[55.96,[8.55,8.02,7.72,7.42,7.18,6.95,6.75,6.55,6.35,6.12,5.92,5.7,5.48,5.28]],[56.01,[8.1,7.78,7.48,7.22,7.02,6.83,6.62,6.42,6.2,5.98,5.78,5.52,5.28]],[56.05,[7.97,7.68,7.38,7.12,6.9,6.7,6.48,6.25,6.02,5.75,5.45]],
 [57.66,[7.9,7.55,7.22,6.98,6.72,6.42,6.08,5.78,5.58,5.38,5.15]],[57.72,[8.35,7.75,7.38,7.12,6.88,6.62,6.42,6.18,5.92,5.7,5.48,5.28,5.08]],[57.76,[8.15,7.8,7.45,7.22,7.0,6.78,6.55,6.35,6.12,5.88,5.65,5.42,5.18]],[57.83,[8.0,7.65,7.38,7.12,6.92,6.7,6.5,6.25,6.02,5.8,5.55,5.33,5.1]],[57.88,[8.02,7.6,7.32,7.08,6.88,6.68,6.45,6.18,5.98,5.72,5.5,5.28,5.03]],[57.93,[7.88,7.48,7.18,7.0,6.72,6.45,6.2,5.92,5.68,5.45,5.15]],
 [58.45,[8.22,7.72,7.22,6.98,6.62,6.32,6.02,5.72,5.42]],[58.52,[8.35,7.62,7.25,7.05,6.85,6.62,6.38,6.15,5.9,5.7,5.5,5.3]],[58.56,[8.02,7.45,7.2,7.02,6.82,6.6,6.38,6.15,5.92,5.72,5.52,5.3]],[58.6,[7.72,7.4,7.2,7.0,6.78,6.5,6.25,6.02,5.8,5.6,5.35]],[58.63,[8.2,7.25,7.02,6.8,6.52,6.22,5.88,5.62,5.38]]
];

const columns = [...g32,...g33,...g34,...g36,...g38,...g39,...g40,...g41,...g42,...g43,...g44,...g45,...g47,...g48,...g485,...g50,...g51,...g52,...g53,...g55,...g56,...g57,...g58,...dense1,...dense2,...dense3];
const points = columns.flatMap(([x, ys]) => ys.map(y => ({x, y})));
const fit = fitX.map((x, i) => ({x, y: fitY[i]}));

const chart = Plot.plot({
  width: 2000, height: 416,
  marginLeft: 250, marginRight: 200, marginTop: 50, marginBottom: 46,
  style: {fontFamily: '"DejaVu Sans", sans-serif', fontSize: "23.5px", color: "#000", background: "#fff"},
  x: {domain: xDomain},
  y: {domain: yDomain},
  marks: [
    Plot.dot(points, {x: "x", y: "y", r: 2.1, fill: "#0000ff", stroke: "none", clip: true}),
    Plot.line(fit, {x: "x", y: "y", stroke: "#ff0000", strokeWidth: 2.8, clip: true}),
    Plot.frame({stroke: "#000", strokeWidth: 1.8}),
    Plot.axisX({ticks: xTicks, tickFormat: d => String(d), tickSize: 9, tickPadding: 9, label: null, strokeWidth: 1.8, stroke: "#000", fontSize: 23.5}),
    Plot.axisY({ticks: yTicks, tickFormat: d => d.toFixed(1), tickSize: 9, tickPadding: 11.5, label: null, strokeWidth: 1.8, stroke: "#000", fontSize: 23.5}),
    Plot.axisY({ticks: [], label: "cnts/s", labelAnchor: "center", labelArrow: "none", labelOffset: 104, fontSize: 21})
  ]
});
document.getElementById("chart").appendChild(chart);
</script>
</body></html>
